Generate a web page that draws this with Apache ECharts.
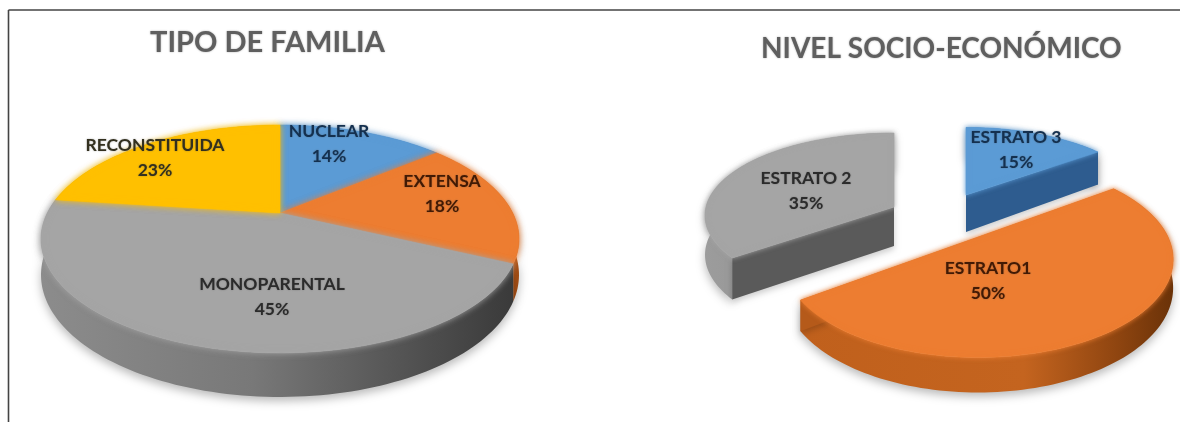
<!DOCTYPE html>
<html><head><meta charset="utf-8">
<style>html,body{margin:0;padding:0;background:#fff}#c{width:1180px;height:422px}</style>
<script src="https://cdn.jsdelivr.net/npm/echarts@6/dist/echarts.min.js"></script>
</head><body><div id="c"></div>
<script>
// ---- chart values ----
const familyNames = ['NUCLEAR','EXTENSA','MONOPARENTAL','RECONSTITUIDA'];
const familyValues = [14,18,45,23];
const strataNames = ['ESTRATO 3','ESTRATO1','ESTRATO 2'];
const strataValues = [15,50,35];
const chartTitles = ['TIPO DE FAMILIA','NIVEL SOCIO-ECONÓMICO'];

// ---- look and layout ----
const familyStyle = [
  {top:'#5b9bd5',wall:[[0,'#2f5f93'],[1,'#2f5f93']],text:'#14304f'},
  {top:'#ed7d31',wall:[[0,'#c4641f'],[1,'#a34d14']],text:'#421a04'},
  {top:'#a5a5a5',wall:[[0,'#8c8c8c'],[.45,'#787878'],[.8,'#505050'],[1,'#3a3a3a']],text:'#2b2b2b'},
  {top:'#ffc000',wall:[[0,'#b88a00'],[1,'#b88a00']],text:'#33301f'}
];
const strataStyle = [
  {top:'#5b9bd5',wall:[[0,'#2f5f93'],[1,'#2f5f93']],cut:'#2e5c8f',text:'#14304f'},
  {top:'#ed7d31',wall:[[0,'#c0601c'],[.6,'#c4641f'],[.85,'#8f4510'],[1,'#6a3208']],cut:'#b55a1a',text:'#421a04'},
  {top:'#a5a5a5',wall:[[0,'#9c9c9c'],[1,'#8a8a8a']],cut:'#5a5a5a',text:'#2b2b2b'}
];
const familyGeo = {cx:280,cy:213,rx:232.7,h:108,k:.228,d:34};
const strataGeo = [
  {cx:966,cy:195,rx:185,h:83,k:.228,d:37,layer:1},
  {cx:978,cy:237,rx:190,h:93,k:.228,d:27,layer:3},
  {cx:894,cy:207,rx:188,h:81.5,k:.102,d:39,layer:2}
];
const familyLabelPos = [[329,131],[442,181],[272,284],[155,145]];
const strataLabelPos = [[1016,137],[988,268],[806,178]];
const LABEL_GAP = 25.5;

function point(g, deg, drop){
  const a = deg*Math.PI/180, u = Math.sin(a), v = -Math.cos(a), s = 1/(1-g.k*v);
  return [g.cx+g.rx*u*s, g.cy+g.h*v*s+(drop||0)*s];
}
function arc(g, a0, a1, drop){
  const n = Math.max(4,Math.ceil(Math.abs(a1-a0)/1.5)), out=[];
  for(let i=0;i<=n;i++) out.push(point(g,a0+(a1-a0)*i/n,drop));
  return out;
}
function linGrad(stops){
  return new echarts.graphic.LinearGradient(0,0,1,0,stops.map(s=>({offset:s[0],color:s[1]})));
}
function slice(names, values, styles, geoOf, labelPos, exploded){
  const total = values.reduce((a,b)=>a+b,0);
  const starts = values.map((_,i)=>values.slice(0,i).reduce((a,b)=>a+b,0)/total*360);
  return {
    type:'custom', coordinateSystem:'none', silent:true, animation:false, clip:false,
    data: values.map(v=>[v]),
    renderItem(params, api){
      const i = params.dataIndex, g = geoOf(i), st = styles[i];
      const share = api.value(0)/total*360, a0 = starts[i], a1 = a0+share;
      const base = (g.layer||1)*10, kids = [];
      const topArc = arc(g,a0,a1,0), botArc = arc(g,a0,a1,g.d);
      const apex = [g.cx,g.cy], apexLow = [g.cx,g.cy+g.d];
      // outer wall
      kids.push({type:'polygon',z2:base,shape:{points:topArc.concat(botArc.slice().reverse())},
        style:{fill:linGrad(st.wall),shadowColor:'rgba(0,0,0,.28)',shadowBlur:10,shadowOffsetY:4}});
      if(exploded){
        // cut faces from the centre to each radius
        [a0,a1].forEach((ang,n)=>{
          const t = point(g,ang,0), b = point(g,ang,g.d);
          kids.push({type:'polygon',z2:base+1,shape:{points:[apex,t,b,apexLow]},
            style:{fill:(n===0&&ang===0)?st.wall[0][1]:st.cut,shadowColor:'rgba(0,0,0,.2)',shadowBlur:6,shadowOffsetY:3}});
        });
      }
      // top face, with a soft bevelled rim
      kids.push({type:'polygon',z2:base+2,shape:{points:[apex].concat(topArc)},
        style:{fill:st.top,stroke:st.top,lineWidth:.6,shadowColor:st.top,shadowBlur:exploded?5:6}});
      // label: name and percentage
      const p = labelPos[i], pct = Math.round(api.value(0)/total*100)+'%';
      [names[i],pct].forEach((tx,n)=>kids.push({type:'text',z2:base+60,
        style:{text:tx,x:p[0],y:p[1]+n*LABEL_GAP,fill:st.text,align:'center',verticalAlign:'middle',
          font:'bold 17.5px Lato, "Open Sans", sans-serif',textShadowColor:'rgba(60,60,60,.4)',textShadowBlur:2}}));
      return {type:'group',children:kids};
    }
  };
}

const chart = echarts.init(document.getElementById('c'),null,{renderer:'canvas'});
const titleFont = {fontFamily:'Lato, "Open Sans", sans-serif',fontWeight:'bold',color:'#5f5f5f',
  textShadowColor:'rgba(90,90,90,.5)',textShadowBlur:2};
chart.setOption({
  animation:false, backgroundColor:'#ffffff',
  title:[
    {text:chartTitles[0],left:150,top:28,padding:0,textStyle:Object.assign({fontSize:29},titleFont)},
    {text:chartTitles[1],left:761,top:35,padding:0,textStyle:Object.assign({fontSize:28},titleFont)}
  ],
  graphic:[
    {type:'line',silent:true,shape:{x1:8.5,y1:10,x2:1180,y2:10},style:{stroke:'#444444',lineWidth:1.6}},
    {type:'line',silent:true,shape:{x1:8.5,y1:10,x2:8.5,y2:422},style:{stroke:'#444444',lineWidth:1.6}}
  ],
  series:[
    slice(familyNames,familyValues,familyStyle,()=>familyGeo,familyLabelPos,false),
    slice(strataNames,strataValues,strataStyle,i=>strataGeo[i],strataLabelPos,true)
  ]
});
</script></body></html>
